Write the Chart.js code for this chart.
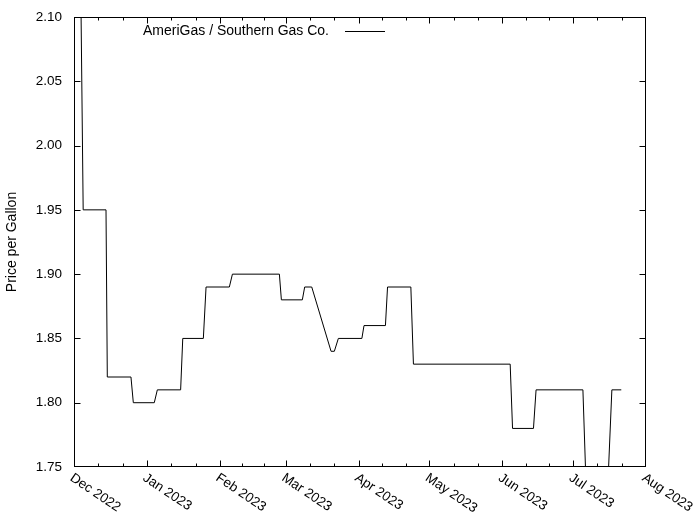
<!DOCTYPE html>
<html>
<head>
<meta charset="utf-8">
<script src="https://cdn.jsdelivr.net/npm/chart.js@4/dist/chart.umd.min.js"></script>
<style>
  body { margin: 0; background: #fff; }
  canvas { display: block; }
</style>
</head>
<body>
<canvas id="chart-price" width="700" height="525"></canvas>
<script>
// days counted from 1 Dec 2022
var monthLabels = ['Dec 2022', 'Jan 2023', 'Feb 2023', 'Mar 2023', 'Apr 2023', 'May 2023', 'Jun 2023', 'Jul 2023', 'Aug 2023'];
var monthStarts = [0, 31, 62, 90, 121, 151, 182, 212, 243];

var seriesLabel = 'AmeriGas / Southern Gas Co.';
var priceDays = [2.9, 3.9, 13.6, 14.15, 24.2, 25.2, 34.1, 35.4, 45.3, 46.2, 54.95, 56.1, 66.0, 67.3,
  87.25, 88.1, 97.0, 98.0, 101.0, 109.2, 110.6, 112.3, 122.3, 123.2, 132.3, 133.2, 143.1, 144.2,
  185.3, 186.3, 195.2, 196.3, 216.2, 218.0, 226.2, 228.5, 232.5];
var priceValues = [2.12, 1.95, 1.95, 1.82, 1.82, 1.80, 1.80, 1.81, 1.81, 1.85, 1.85, 1.89, 1.89, 1.90,
  1.90, 1.88, 1.88, 1.89, 1.89, 1.84, 1.84, 1.85, 1.85, 1.86, 1.86, 1.89, 1.89, 1.83,
  1.83, 1.78, 1.78, 1.81, 1.81, 1.71, 1.71, 1.81, 1.81];

var yMin = 1.75, yMax = 2.10, yStep = 0.05;

var points = priceDays.map(function (d, i) { return { x: d, y: priceValues[i] }; });

var FONT = "'Liberation Sans', Arial, sans-serif";
Chart.defaults.font.family = FONT;
Chart.defaults.color = '#000';

// gnuplot style frame, inward ticks, rotated month labels and key
var gnuplotFrame = {
  id: 'gnuplotFrame',
  afterDraw: function (chart) {
    var ctx = chart.ctx;
    var a = chart.chartArea;
    var xs = chart.scales.x, ys = chart.scales.y;
    var L = Math.round(a.left) + 0.5, R = Math.round(a.right) - 0.5;
    var T = Math.round(a.top) + 0.5, B = Math.round(a.bottom) - 0.5;
    var clampX = function (v) { return Math.min(R, Math.max(L, Math.round(v) + 0.5)); };
    var clampY = function (v) { return Math.min(B, Math.max(T, Math.round(v) + 0.5)); };
    ctx.save();
    ctx.strokeStyle = '#000';
    ctx.lineWidth = 1;
    ctx.strokeRect(L, T, R - L, B - T);

    ctx.beginPath();
    // y ticks, both sides
    ys.ticks.forEach(function (t) {
      var py = clampY(ys.getPixelForValue(t.value));
      ctx.moveTo(L, py); ctx.lineTo(L + 6, py);
      ctx.moveTo(R, py); ctx.lineTo(R - 6, py);
    });
    // x ticks, bottom and top, with two minor ticks per month
    for (var i = 0; i < monthStarts.length; i++) {
      var px = clampX(xs.getPixelForValue(monthStarts[i]));
      ctx.moveTo(px, B); ctx.lineTo(px, B - 6);
      ctx.moveTo(px, T); ctx.lineTo(px, T + 6);
      if (i < monthStarts.length - 1) {
        var len = monthStarts[i + 1] - monthStarts[i];
        for (var k = 1; k <= 2; k++) {
          var mx = clampX(xs.getPixelForValue(monthStarts[i] + len * k / 3));
          ctx.moveTo(mx, B); ctx.lineTo(mx, B - 3);
          ctx.moveTo(mx, T); ctx.lineTo(mx, T + 3);
        }
      }
    }
    ctx.stroke();

    // month labels
    ctx.fillStyle = '#000';
    ctx.font = '13.5px ' + FONT;
    ctx.textAlign = 'left';
    ctx.textBaseline = 'top';
    for (var j = 0; j < monthLabels.length; j++) {
      var lx = xs.getPixelForValue(monthStarts[j]);
      ctx.save();
      ctx.translate(lx + 1, a.bottom + 4);
      ctx.rotate(34 * Math.PI / 180);
      ctx.fillText(monthLabels[j], 0, 0);
      ctx.restore();
    }

    // key
    var ky = Math.round(a.top + 14) + 0.5;
    ctx.font = '14px ' + FONT;
    ctx.textAlign = 'right';
    ctx.textBaseline = 'middle';
    ctx.fillText(chart.data.datasets[0].label, a.left + 255, ky);
    ctx.beginPath();
    ctx.moveTo(a.left + 271, ky);
    ctx.lineTo(a.left + 311, ky);
    ctx.stroke();
    ctx.restore();
  }
};

var ctx1 = document.getElementById('chart-price').getContext('2d');

new Chart(ctx1, {
  type: 'line',
  data: {
    datasets: [{
      label: seriesLabel,
      data: points,
      borderColor: '#000',
      borderWidth: 1,
      pointRadius: 0,
      tension: 0,
      fill: false
    }]
  },
  options: {
    responsive: false,
    animation: false,
    layout: {
      padding: { top: 17, right: 54, left: 0, bottom: 0 }
    },
    plugins: {
      legend: { display: false },
      tooltip: { enabled: false }
    },
    scales: {
      x: {
        type: 'linear',
        min: monthStarts[0],
        max: monthStarts[monthStarts.length - 1],
        grid: { display: false, drawTicks: false },
        border: { display: false },
        ticks: { display: false },
        afterFit: function (s) {
          s.height = 58;
          s.paddingLeft = 0; s.paddingRight = 0;
        }
      },
      y: {
        min: yMin,
        max: yMax,
        grid: { display: false, drawTicks: false },
        border: { display: false },
        ticks: {
          stepSize: yStep,
          padding: 12,
          color: '#000',
          font: { size: 13.5 },
          callback: function (v) { return v.toFixed(2); }
        },
        title: {
          display: true,
          text: 'Price per Gallon',
          color: '#000',
          font: { size: 14 },
          padding: { top: 4, bottom: 0 }
        },
        afterFit: function (s) {
          s.width = 74;
          s.paddingTop = 0; s.paddingBottom = 0;
        }
      }
    }
  },
  plugins: [gnuplotFrame]
});
</script>
</body>
</html>
